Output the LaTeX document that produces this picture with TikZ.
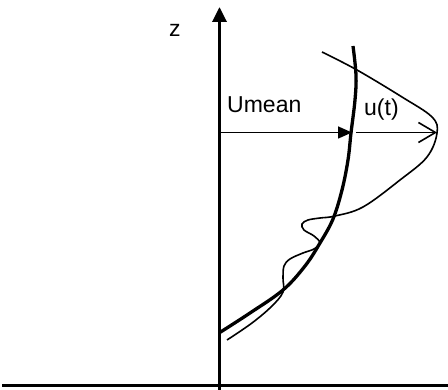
\documentclass[tikz,border=0pt]{standalone}
\usepackage{fontspec}
\setmainfont{Liberation Sans}
\usetikzlibrary{arrows.meta}
\begin{document}
\begin{tikzpicture}[x=1pt,y=-1pt,
  lbl/.style={anchor=base west,inner sep=0pt,font=\fontsize{23}{27}\selectfont},
  thickline/.style={line width=3.3pt},
  thinline/.style={line width=1.6pt},
]
\useasboundingbox (0,0) rectangle (448,390);
% ground
\coordinate (g1) at (2,385.5);
\coordinate (g2) at (448,385.5);
\draw[line width=3.8pt] (g1) -- (g2);
% axis
\coordinate (a0) at (219.5,391);
\coordinate (a1) at (219.5,7);
\draw[line width=3.3pt,-{Triangle[length=15pt,width=14pt]}] (a0) -- (a1);
\node[lbl] (z) at (169,37) {z};
% mean profile
\draw[thickline] plot[smooth,tension=0.6] coordinates {(219,333) (250,313) (283,290) (305,266) (320,243) (333,219) (342,190) (348,160) (351,133) (355,100) (356,75) (353,46)};
% instantaneous profile
\draw[thinline] plot[smooth,tension=0.6] coordinates {(227,340) (252,323) (272,306) (283,292) (283,278) (284,266) (290,259) (303,253) (314,249) (320,243) (314,236) (304,230) (302,224) (308,220) (320,218) (335,216) (363,207) (400,180) (427,157) (437,133) (432,117) (402,97) (357,70) (322,52)};
% arrows
\coordinate (m0) at (219.5,132.5);
\coordinate (m1) at (352,132.5);
\draw[line width=1.6pt,-{Triangle[length=14pt,width=12pt]}] (m0) -- (m1);
\coordinate (u0) at (356,132.5);
\coordinate (u1) at (437,132.5);
\draw[line width=1.6pt,-{Straight Barb[length=17pt,width=20pt]}] (u0) -- (u1);
\node[lbl] (um) at (227,113) {Umean};
\node[lbl] (ut) at (364,116) {u(t)};
\end{tikzpicture}
\end{document}
